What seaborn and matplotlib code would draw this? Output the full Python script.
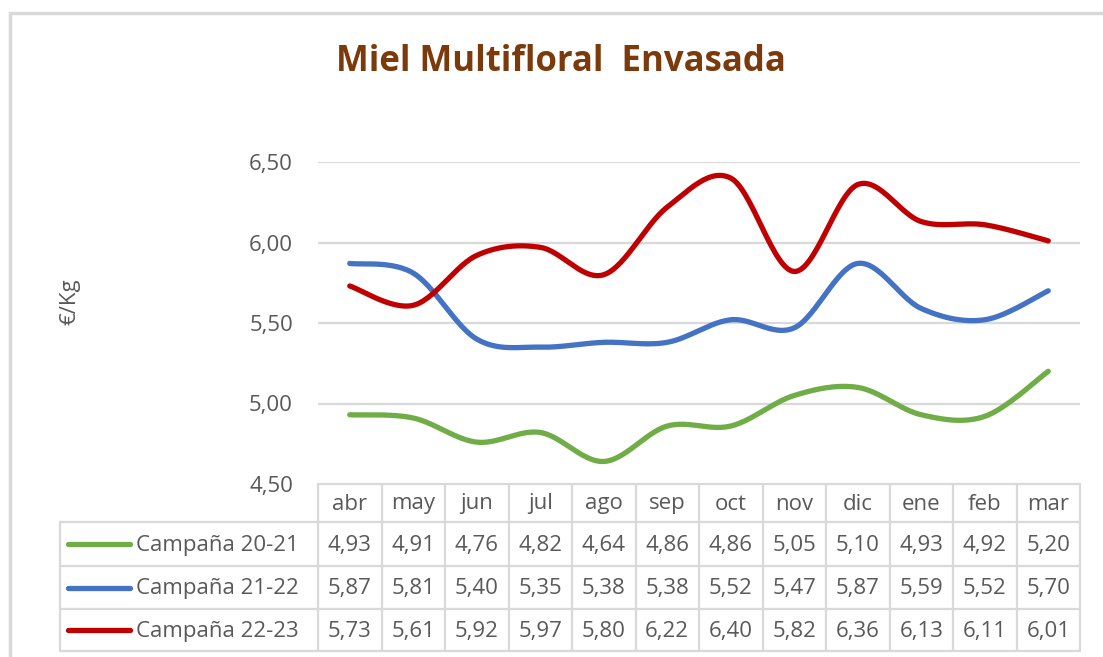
import numpy as np
import pandas as pd
import matplotlib
matplotlib.use("Agg")
import matplotlib.pyplot as plt
import seaborn as sns

# ---- data -------------------------------------------------------------
months = ["abr", "may", "jun", "jul", "ago", "sep", "oct", "nov", "dic", "ene", "feb", "mar"]
campaigns = ["Campaña 20-21", "Campaña 21-22", "Campaña 22-23"]
prices_20_21 = [4.93, 4.91, 4.76, 4.82, 4.64, 4.86, 4.86, 5.05, 5.10, 4.93, 4.92, 5.20]
prices_21_22 = [5.87, 5.81, 5.40, 5.35, 5.38, 5.38, 5.52, 5.47, 5.87, 5.59, 5.52, 5.70]
prices_22_23 = [5.73, 5.61, 5.92, 5.97, 5.80, 6.22, 6.40, 5.82, 6.36, 6.13, 6.11, 6.01]
y_ticks = [4.50, 5.00, 5.50, 6.00, 6.50]

series = [prices_20_21, prices_21_22, prices_22_23]
colors = ["#70AD47", "#4472C4", "#C00000"]
text_grey = "#595959"
rule_grey = "#D9D9D9"
fs = 16

W, H = 1103, 657

sns.set_style("white")
plt.rcParams["font.family"] = ["Open Sans", "DejaVu Sans"]


def smooth(values, steps=30):
    """Smoothed line through the points: cubic Bezier segments with Catmull-Rom tangents."""
    p = np.asarray(values, dtype=float)
    pts = np.column_stack([np.arange(len(p), dtype=float), p])
    ext = np.vstack([pts[0], pts, pts[-1]])
    t = np.linspace(0, 1, steps, endpoint=False)[:, None]
    out = []
    for i in range(len(pts) - 1):
        p0, p1, p2, p3 = ext[i], ext[i + 1], ext[i + 2], ext[i + 3]
        c1 = p1 + (p2 - p0) / 6
        c2 = p2 - (p3 - p1) / 6
        seg = (1 - t) ** 3 * p1 + 3 * (1 - t) ** 2 * t * c1 + 3 * (1 - t) * t ** 2 * c2 + t ** 3 * p2
        out.append(seg)
    out.append(pts[-1:])
    return np.vstack(out)


def fig_rect(x0, y0, x1, y1):
    """Pixel box (top-left origin) to figure fraction rect."""
    return [x0 / W, 1 - y1 / H, (x1 - x0) / W, (y1 - y0) / H]


fig = plt.figure(figsize=(W / 100, H / 100), dpi=100)

# overlay in pixel units for frame, title and data table
over = fig.add_axes([0, 0, 1, 1])
over.set_xlim(0, W)
over.set_ylim(H, 0)
over.axis("off")

# ---- plot area ---------------------------------------------------------
px0, px1, py0, py1 = 318, 1080, 162, 484
ax = fig.add_axes(fig_rect(px0, py0, px1, py1))

rows = []
for name, vals in zip(campaigns, series):
    curve = smooth(vals)
    rows.append(pd.DataFrame({"x": curve[:, 0], "precio": curve[:, 1], "campaña": name}))
df = pd.concat(rows, ignore_index=True)

for y in y_ticks[1:]:
    ax.axhline(y, color=rule_grey, lw=1.6, zorder=0)

sns.lineplot(data=df, x="x", y="precio", hue="campaña", palette=colors,
             sort=False, estimator=None, legend=False, lw=3.8, ax=ax,
             solid_capstyle="round")

ax.set_xlim(-0.5, len(months) - 0.5)
ax.set_ylim(y_ticks[0], y_ticks[-1])
ax.set_yticks(y_ticks)
ax.set_yticklabels([f"{v:.2f}".replace(".", ",") for v in y_ticks],
                   fontsize=fs, color=text_grey)
ax.tick_params(axis="y", length=0, pad=18)
ax.set_xticks([])
ax.set_xlabel("")
ax.set_ylabel("")
for s in ax.spines.values():
    s.set_visible(False)
ax.patch.set_alpha(0)

# ---- frame, title and axis label --------------------------------------
over.plot([10, 10, W + 5], [H + 5, 13, 13], color=rule_grey, lw=2.5,
          solid_joinstyle="miter")
over.text(561, 62, "Miel Multifloral  Envasada", ha="center", va="center",
          fontsize=25, fontweight="bold", color="#7A3A0C")
over.text(70, 302, "€/Kg", rotation=90, ha="center", va="center",
          fontsize=fs, color=text_grey)

# ---- data table --------------------------------------------------------
col_w = (px1 - px0) / len(months)
header_top, header_bot = 484, 522
row_edges = [522, 566, 609, 651]
label_x0 = 60
tlw = 1.6

# header cells
over.plot([px0, px1], [header_top, header_top], color=rule_grey, lw=tlw)
for j, m in enumerate(months):
    cx = px0 + (j + 0.5) * col_w
    over.text(cx, (header_top + header_bot) / 2 + 1, m, ha="center", va="center",
              fontsize=fs, color=text_grey)
for j in range(len(months) + 1):
    xx = px0 + j * col_w
    over.plot([xx, xx], [header_top, row_edges[-1]], color=rule_grey, lw=tlw)

# body rows
for yy in row_edges:
    over.plot([label_x0, px1], [yy, yy], color=rule_grey, lw=tlw)
over.plot([label_x0, label_x0], [row_edges[0], row_edges[-1]], color=rule_grey, lw=tlw)

for i, (name, vals, c) in enumerate(zip(campaigns, series, colors)):
    cy = (row_edges[i] + row_edges[i + 1]) / 2
    over.plot([68, 130], [cy, cy], color=c, lw=3.8, solid_capstyle="round")
    over.text(136, cy + 1, name, ha="left", va="center", fontsize=fs, color=text_grey)
    for j, v in enumerate(vals):
        cx = px0 + (j + 0.5) * col_w
        over.text(cx, cy + 1, f"{v:.2f}".replace(".", ","), ha="center", va="center",
                  fontsize=fs, color=text_grey)

fig.savefig("out.png", dpi=100)
